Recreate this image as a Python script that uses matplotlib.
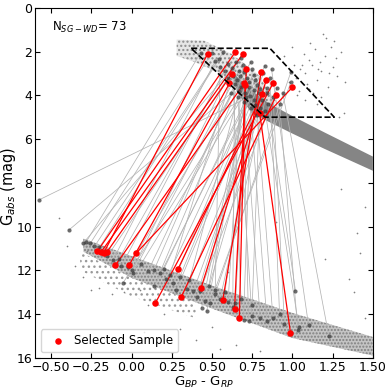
import matplotlib
matplotlib.use("Agg")
import matplotlib.pyplot as plt

# selected sample (red): subgiant end and white dwarf end of each pair
red_sg_x = [0.473, 0.644, 0.690, 0.623, 0.608, 0.700, 0.714, 0.838, 1.000, 0.806, 0.879, 0.812, 0.706, 0.900, 0.796]
red_sg_y = [2.10, 2.03, 2.13, 3.03, 3.46, 3.46, 2.79, 3.29, 3.63, 2.93, 3.46, 3.96, 3.55, 3.99, 4.79]
red_wd_x = [-0.173, -0.214, -0.190, -0.152, -0.015, -0.102, 0.640, 0.431, 0.027, 0.567, 0.148, 0.290, 0.670, 0.310, 0.988]
red_wd_y = [11.20, 11.14, 11.17, 11.15, 11.76, 11.78, 13.78, 12.83, 11.23, 13.36, 13.50, 11.92, 14.17, 13.20, 14.87]

# other SG-WD pairs (gray)
gray_sg_x = [0.738, 0.62, 0.43, 0.50, 0.57, 0.546, 0.519, 0.60, 0.625, 0.665, 0.675, 0.654, 0.70, 0.758, 0.83,
             0.779, 0.758, 0.79, 0.81, 0.842, 0.904, 0.769, 0.80, 0.706, 0.727, 0.99, 0.99, 0.84, 0.68, 0.64,
             0.72, 0.75, 0.69, 0.66, 0.70, 0.74, 0.78, 0.85, 0.83, 0.92, 0.94, 0.60, 0.58, 0.73, 0.77,
             0.82, 0.67, 0.71, 0.76, 0.63, 0.80, 0.86, 0.87, 0.68, 0.74, 0.65, 0.55, 0.88]
gray_sg_y = [4.05, 3.90, 2.05, 2.05, 2.03, 2.33, 2.45, 2.55, 2.75, 2.91, 3.14, 3.29, 2.95, 3.06, 2.64,
             3.52, 3.75, 3.90, 4.20, 3.67, 3.67, 4.43, 4.59, 3.90, 3.37, 2.94, 3.40, 3.90, 3.60, 3.50,
             3.20, 2.80, 2.60, 4.10, 4.30, 4.60, 4.90, 4.40, 4.70, 4.40, 3.90, 3.20, 2.90, 3.60, 3.30,
             3.00, 3.80, 4.10, 4.20, 3.10, 3.70, 3.20, 2.80, 2.30, 2.50, 2.50, 2.70, 4.10]
gray_wd_x = [-0.575, -0.39, -0.283, -0.256, -0.231, -0.20, -0.117, -0.064, 0.004, 0.008, 0.102, 0.14, 0.175, -0.054, 0.14,
             0.217, 0.258, 0.279, 0.342, 0.383, 0.425, 0.404, 0.456, 0.435, 0.467, 0.519, 0.488, 0.55, 0.60, 0.629,
             0.646, 0.696, 0.727, 0.748, 0.80, 0.842, 0.879, 1.019, 1.04, 1.033, 1.227, -0.15, -0.08, 0.06, 0.20,
             0.30, 0.36, 0.48, 0.58, 0.68, 0.75, 0.92, 1.10, -0.30, -0.02, 0.24, 0.52, 0.95]
gray_wd_y = [8.78, 10.16, 10.71, 10.76, 10.91, 10.95, 11.55, 11.82, 11.98, 12.13, 12.05, 11.98, 12.13, 12.59, 12.74,
             12.40, 12.59, 12.89, 12.86, 12.97, 12.97, 13.20, 13.40, 13.73, 13.88, 13.09, 13.50, 13.30, 13.45, 13.68,
             13.50, 14.26, 14.31, 14.08, 14.20, 14.34, 14.16, 12.94, 14.60, 14.72, 15.02, 11.35, 11.50, 11.70, 11.95,
             12.30, 12.45, 12.70, 13.00, 13.30, 13.60, 14.00, 14.50, 10.75, 11.85, 12.20, 12.90, 14.45]

# field stars: dense sequences as outlines, sparse stars as points
ms_x = [0.62, 0.75, 0.85, 1.00, 1.20, 1.35, 1.50, 1.50, 1.35, 1.20, 1.00, 0.85, 0.75, 0.66]
ms_y = [2.90, 3.80, 4.35, 4.95, 5.70, 6.25, 6.80, 7.45, 6.95, 6.45, 5.75, 5.20, 4.85, 3.90]
sgb_x = [0.28, 0.45, 0.62, 0.78, 0.90, 0.86, 0.70, 0.55, 0.40, 0.28]
sgb_y = [1.45, 1.50, 2.10, 3.00, 4.30, 4.70, 3.90, 3.00, 2.50, 2.20]
wd_band_x = [-0.30, 0.00, 0.50, 1.00, 1.50, 1.50, 1.00, 0.50, 0.00, -0.30]
wd_band_y = [10.55, 11.35, 12.70, 13.95, 15.05, 15.90, 15.10, 13.75, 12.35, 11.15]
wd_low_x = [-0.32, 0.00, 0.40, 0.40, 0.00, -0.32]
wd_low_y = [11.15, 12.35, 13.45, 14.20, 13.20, 12.00]
field_x = [1.02, 1.05, 1.08, 1.10, 1.12, 1.15, 1.18, 1.20, 1.22, 1.25, 1.28, 1.30, 1.33, 1.04, 1.07,
           1.11, 1.14, 1.17, 1.21, 1.24, 1.27, 1.06, 1.09, 1.13, 1.16, 1.19, 1.23, 1.26, 0.98, 1.01,
           0.95, 1.00, 1.03, 1.08, 1.15, 1.20, 1.29, 1.32, 1.10, 1.18,
           -0.45, -0.40, -0.35, -0.30, -0.28, -0.20, -0.12, -0.05, 0.05, 0.10, 0.20, 0.30, 0.40, 0.55, 0.65,
           0.80, 1.20, 1.35, 1.40, 1.45, 1.30, 1.45, 0.25, 0.50, 0.08, -0.25, 1.38, 1.42, 0.90, 0.60]
field_y = [3.20, 2.80, 3.00, 2.40, 2.60, 3.30, 2.90, 2.20, 3.60, 2.70, 3.10, 2.00, 3.40, 3.80, 2.10,
           1.60, 1.90, 2.50, 1.40, 1.80, 2.30, 2.60, 3.50, 3.90, 2.80, 1.20, 3.00, 1.50, 3.40, 2.60,
           2.20, 1.80, 4.00, 4.20, 4.40, 4.60, 5.00, 4.80, 3.70, 4.10,
           9.60, 10.90, 11.80, 12.30, 11.10, 12.80, 13.10, 13.00, 12.90, 13.60, 14.00, 14.70, 15.20, 15.60, 15.40,
           15.70, 11.50, 12.40, 10.30, 14.20, 8.30, 9.10, 15.80, 14.60, 14.80, 12.90, 13.00, 11.20, 9.80, 12.10]

box_x = [0.37, 0.86, 1.26, 0.83, 0.37]
box_y = [1.85, 1.85, 5.00, 5.00, 1.85]

plt.rcParams['hatch.linewidth'] = 1.0

fig = plt.figure(figsize=(3.9, 3.91), dpi=100)
ax = fig.add_axes([0.09, 0.085, 0.866, 0.895])

# background field
ax.fill(sgb_x, sgb_y, facecolor='#e6e6e6', edgecolor='#8c8c8c', hatch='....', linewidth=0, zorder=1)
ax.fill(wd_band_x, wd_band_y, facecolor='#c4c4c4', edgecolor='#808080', hatch='.....', linewidth=0, zorder=1)
ax.fill(wd_low_x, wd_low_y, facecolor='none', edgecolor='#9a9a9a', hatch='...', linewidth=0, zorder=1)
ax.fill(ms_x, ms_y, facecolor='#858585', edgecolor='none', zorder=1)
ax.scatter(field_x, field_y, s=1.5, color='#808080', linewidths=0, zorder=1)

# pair lines
for i in range(len(gray_sg_x)):
    ax.plot([gray_sg_x[i], gray_wd_x[i]], [gray_sg_y[i], gray_wd_y[i]], color='#b4b4b4', lw=0.55, zorder=2)
for i in range(len(red_sg_x)):
    ax.plot([red_sg_x[i], red_wd_x[i]], [red_sg_y[i], red_wd_y[i]], color='red', lw=0.9, zorder=3)

# pair members
ax.scatter(gray_sg_x + gray_wd_x, gray_sg_y + gray_wd_y, s=9, color='#3c3c3c', alpha=0.75, linewidths=0, zorder=4)
ax.scatter(red_sg_x + red_wd_x, red_sg_y + red_wd_y, s=22, color='red', linewidths=0, zorder=5,
           label='Selected Sample')

ax.plot(box_x, box_y, 'k--', lw=1.2, zorder=6)

ax.text(0.05, 0.945, r'N$_{SG-WD}$= 73', transform=ax.transAxes, fontsize=8.5, va='center')

ax.set_xlim(-0.6, 1.5)
ax.set_ylim(16, 0)
ax.set_xticks([-0.5, -0.25, 0.0, 0.25, 0.5, 0.75, 1.0, 1.25, 1.5])
ax.set_yticks(range(0, 17, 2))
ax.tick_params(direction='in', top=True, right=True, labelsize=9, pad=2)
ax.set_xlabel(r'G$_{BP}$ - G$_{RP}$', fontsize=9.5)
ax.set_ylabel(r'G$_{abs}$ (mag)', fontsize=10.5)
ax.xaxis.set_label_coords(0.5, -0.048)
ax.yaxis.set_label_coords(-0.05, 0.49)
ax.legend(loc='lower left', fontsize=8.5, handletextpad=0.4)

fig.savefig('out.png', dpi=100)
